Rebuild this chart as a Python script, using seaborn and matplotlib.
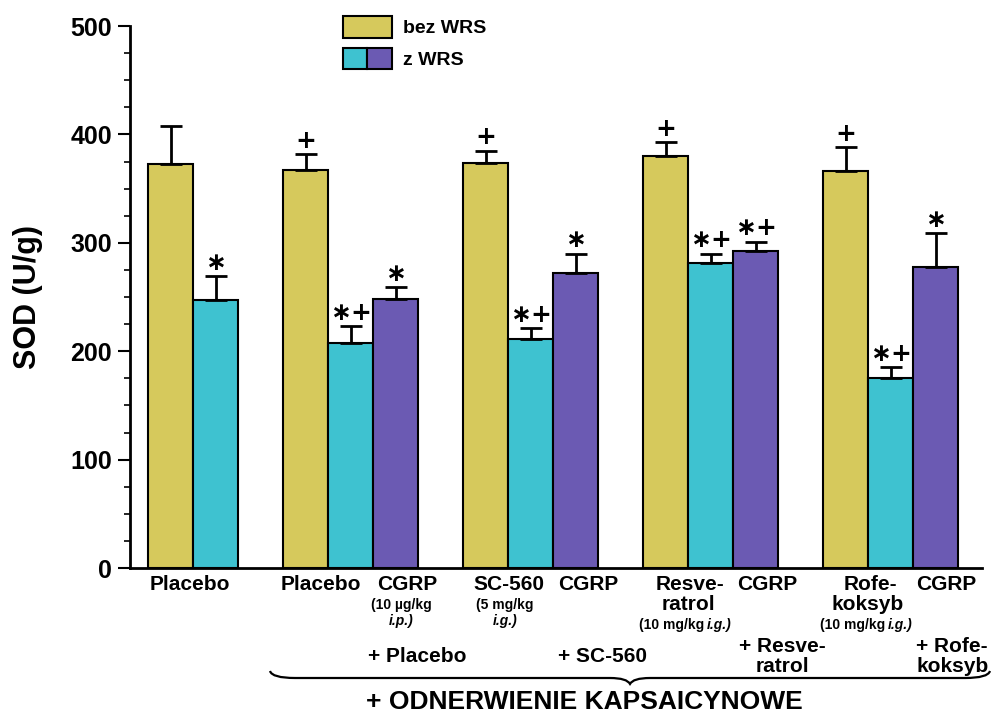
import numpy as np
import pandas as pd
import matplotlib
matplotlib.use("Agg")
import matplotlib.pyplot as plt
import seaborn as sns
from matplotlib.patches import Patch, PathPatch
from matplotlib.legend_handler import HandlerTuple
from matplotlib.path import Path
from matplotlib.ticker import MultipleLocator

# ---------------- data ----------------
groups = [
    ["bez WRS", "z WRS"],
    ["bez WRS", "z WRS", "z WRS CGRP"],
    ["bez WRS", "z WRS", "z WRS CGRP"],
    ["bez WRS", "z WRS", "z WRS CGRP"],
    ["bez WRS", "z WRS", "z WRS CGRP"],
]
values = [373, 247, 367, 208, 248, 374, 211, 272, 380, 281, 292, 366, 175, 278]
errors = [35, 22, 15, 15, 11, 11, 10, 18, 13, 9, 9, 22, 10, 31]
marks = ["", "∗", "+", "∗+", "∗", "+", "∗+", "∗", "+", "∗+", "∗+", "+", "∗+", "∗"]
yticks = [0, 100, 200, 300, 400, 500]
legend_labels = ["bez WRS", "z WRS"]

palette = {"bez WRS": "#d6c95c", "z WRS": "#3ec2d0", "z WRS CGRP": "#6b5ab3"}

kinds, pos = [], []
p = 0
for g in groups:
    for k in g:
        kinds.append(k)
        pos.append(p)
        p += 1
    p += 1
df = pd.DataFrame({"pos": pos, "val": values, "kind": kinds})

# ---------------- figure ----------------
sns.set_theme(style="ticks")
plt.rcParams["font.family"] = ["Liberation Sans", "DejaVu Sans"]
plt.rcParams["font.weight"] = "bold"
plt.rcParams["text.color"] = "black"
plt.rcParams["ytick.color"] = "black"
plt.rcParams["ytick.labelcolor"] = "black"
plt.rcParams["axes.labelcolor"] = "black"

W, H = 994, 715
fig = plt.figure(figsize=(W / 100, H / 100), dpi=100)
ax = fig.add_axes([130 / W, (H - 568) / H, (982 - 130) / W, (568 - 26) / H])

sns.barplot(data=df, x="pos", y="val", hue="kind", palette=palette, native_scale=True,
            dodge=False, width=1.0, edgecolor="black", linewidth=1.5, errorbar=None,
            legend=False, saturation=1, ax=ax)
ax.errorbar(df["pos"], df["val"], yerr=[np.zeros(len(values)), errors], fmt="none",
            ecolor="black", elinewidth=2, capsize=8, capthick=2, zorder=3)

for x, v, e, m in zip(pos, values, errors, marks):
    if m:
        ax.annotate(m, (x, v + e), xytext=(0, 1), textcoords="offset points",
                    ha="center", va="bottom", fontsize=18, fontweight="bold",
                    family=["DejaVu Sans"], color="black")

ax.set_xlim(-0.9, 18.03)
ax.set_ylim(0, 500)
ax.set_yticks(yticks)
ax.set_yticklabels([str(t) for t in yticks], fontsize=18, fontweight="bold", color="black")
ax.yaxis.set_minor_locator(MultipleLocator(25))
ax.tick_params(axis="y", which="major", direction="out", length=9, width=1.5, pad=4,
               color="black")
ax.tick_params(axis="y", which="minor", direction="out", length=4, width=1.2, color="black")
ax.tick_params(axis="x", bottom=False, labelbottom=False)
ax.set_xlabel("")
ax.set_ylabel("")
sns.despine(ax=ax)
for s in ["left", "bottom"]:
    ax.spines[s].set_linewidth(2)
    ax.spines[s].set_color("black")
ax.set_facecolor("white")


def T(px, py, s, size, **kw):
    fig.text(px / W, 1 - py / H, s, fontsize=size, fontweight="bold", color="black",
             ha=kw.pop("ha", "center"), va=kw.pop("va", "center"), **kw)


T(28, 297, "SOD (U/g)", 22, rotation=90)

# x labels
T(190, 584, "Placebo", 15)
T(321, 584, "Placebo", 15)
T(407, 584, "CGRP", 15)
T(401, 605, "(10 µg/kg", 10)
T(401, 621, "i.p.)", 10, style="italic")
T(509, 584, "SC-560", 15)
T(505, 605, "(5 mg/kg", 10)
T(505, 621, "i.g.)", 10, style="italic")
T(588, 584, "CGRP", 15)
T(690, 585, "Resve-", 15)
T(688, 605, "ratrol", 15)
T(704, 625, "(10 mg/kg", 10, ha="right")
T(707, 625, "i.g.)", 10, ha="left", style="italic")
T(767, 584, "CGRP", 15)
T(870, 585, "Rofe-", 15)
T(868, 605, "koksyb", 15)
T(885, 625, "(10 mg/kg", 10, ha="right")
T(888, 625, "i.g.)", 10, ha="left", style="italic")
T(946, 584, "CGRP", 15)

T(417, 657, "+ Placebo", 15)
T(602, 657, "+ SC-560", 15)
T(782, 646, "+ Resve-", 15)
T(782, 666, "ratrol", 15)
T(952, 646, "+ Rofe-", 15)
T(953, 666, "koksyb", 15)

# brace
x0, x1, xc, yb = 270, 990, 630, 678


def fp(px, py):
    return (px / W, 1 - py / H)


verts = [fp(x0, yb - 7), fp(x0 + 2, yb), fp(x0 + 25, yb), fp(xc - 20, yb),
         fp(xc - 3, yb), fp(xc, yb + 6), fp(xc + 3, yb), fp(xc + 20, yb),
         fp(x1 - 25, yb), fp(x1 - 2, yb), fp(x1, yb - 7)]
codes = [Path.MOVETO, Path.CURVE3, Path.CURVE3, Path.LINETO, Path.CURVE3, Path.CURVE3,
         Path.CURVE3, Path.CURVE3, Path.LINETO, Path.CURVE3, Path.CURVE3]
fig.patches.append(PathPatch(Path(verts, codes), transform=fig.transFigure,
                             fill=False, lw=1.6, ec="black"))

T(584, 702, "+ ODNERWIENIE KAPSAICYNOWE", 19)

# legend
handles = [Patch(fc=palette["bez WRS"], ec="black", lw=1.5),
           (Patch(fc=palette["z WRS"], ec="black", lw=1.5),
            Patch(fc=palette["z WRS CGRP"], ec="black", lw=1.5))]
leg = fig.legend(handles, legend_labels,
                 handler_map={tuple: HandlerTuple(ndivide=None, pad=0)},
                 loc="upper left", bbox_to_anchor=(343 / W, 1 - 16 / H), frameon=False,
                 borderpad=0, borderaxespad=0, handlelength=2.5, handleheight=1.35,
                 labelspacing=0.5, handletextpad=0.6, prop={"size": 14, "weight": "bold"})
for t in leg.get_texts():
    t.set_color("black")

fig.savefig("out.png", dpi=100, facecolor="white")
